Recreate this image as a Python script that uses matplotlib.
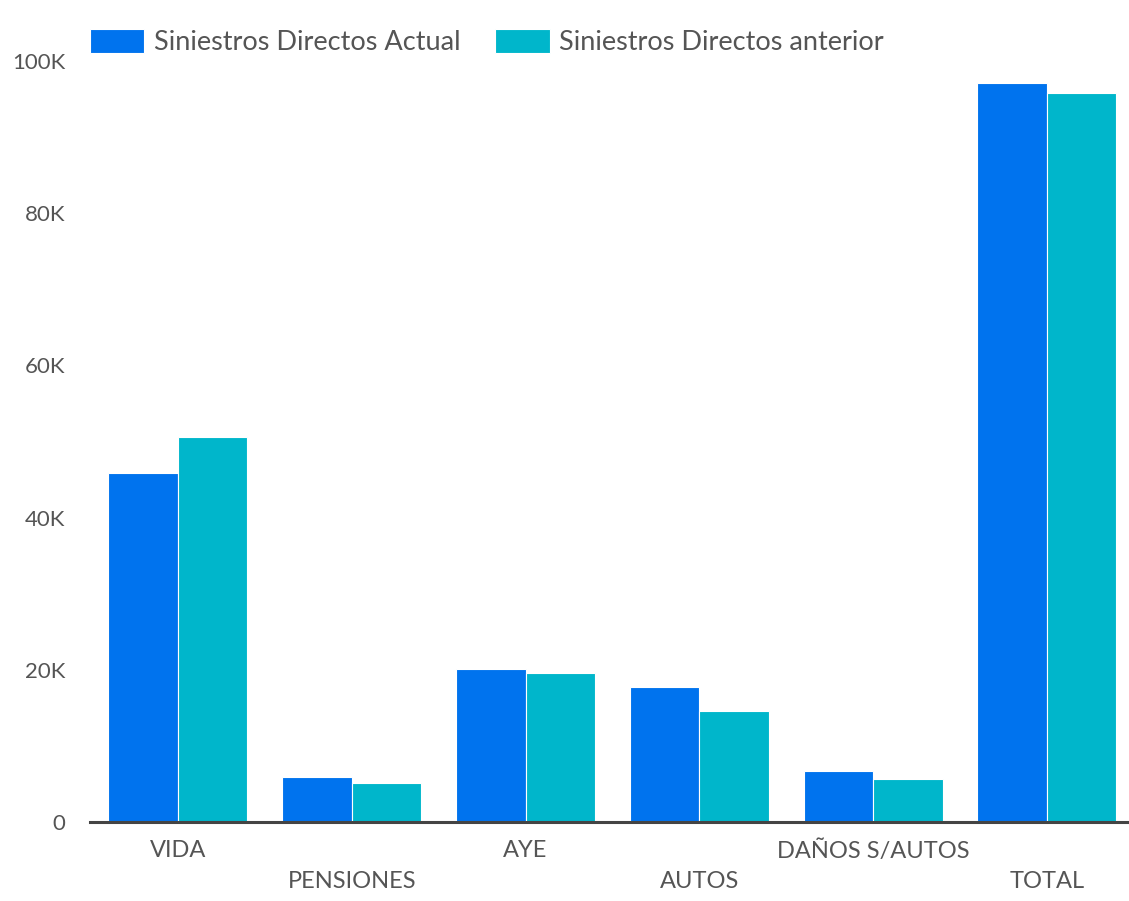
import numpy as np
import matplotlib.pyplot as plt

categories = ['VIDA', 'PENSIONES', 'AYE', 'AUTOS', 'DAÑOS S/AUTOS', 'TOTAL']
actual = [45.9, 5.9, 20.1, 17.7, 6.7, 97.1]      # miles
anterior = [50.6, 5.1, 19.6, 14.6, 5.7, 95.8]
yticks = [0, 20, 40, 60, 80, 100]
ytick_labels = ['0', '20K', '40K', '60K', '80K', '100K']

plt.rcParams['font.family'] = ['Lato', 'DejaVu Sans']
text_color = '#555555'

fig = plt.figure(figsize=(11.29, 9.01), dpi=100)
ax = fig.add_axes([90 / 1129, 79 / 901, 1039 / 1129, 761 / 901])

x = np.arange(len(categories))
w = 0.40
ax.bar(x - w / 2, actual, w, color='#0073EE', edgecolor='white', linewidth=0.8,
       label='Siniestros Directos Actual')
ax.bar(x + w / 2, anterior, w, color='#00B6CB', edgecolor='white', linewidth=0.8,
       label='Siniestros Directos anterior')

ax.set_xlim(-0.506, 5.472)
ax.set_ylim(0, 100)
ax.set_yticks(yticks)
ax.set_yticklabels(ytick_labels)
ax.set_xticks(x)
ax.set_xticklabels([c if i % 2 == 0 else '\n' + c for i, c in enumerate(categories)])
for lbl in ax.get_xticklabels():
    lbl.set_linespacing(1.6)

ax.tick_params(axis='both', length=0, colors=text_color, labelsize=16)
ax.tick_params(axis='x', pad=13, labelsize=17)
ax.tick_params(axis='y', pad=18)

for s in ['top', 'right', 'left']:
    ax.spines[s].set_visible(False)
ax.spines['bottom'].set_color('#444444')
ax.spines['bottom'].set_linewidth(2.2)

leg = ax.legend(loc='lower left', bbox_to_anchor=(0.0, 1.008), ncol=2, frameon=False,
                fontsize=19.5, handlelength=2.0, handleheight=1.0, handletextpad=0.35,
                columnspacing=1.3, borderaxespad=0, borderpad=0)
for t in leg.get_texts():
    t.set_color(text_color)

fig.savefig('out.png', dpi=100)
